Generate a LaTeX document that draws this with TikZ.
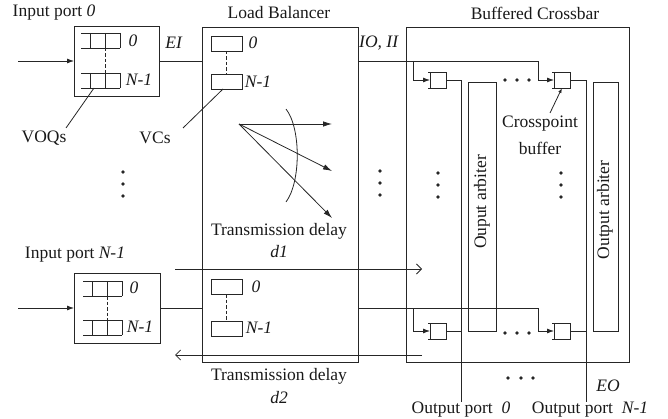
\documentclass[tikz,border=0pt]{standalone}
\usepackage{fontspec}
\setmainfont{Liberation Serif}
\usetikzlibrary{arrows.meta}
\newcommand{\myvoq}[2]{%
  \draw[ln] (#1,#2) -- ++(39,0) (#1,#2+15) -- ++(39,0)
    (#1+9,#2) -- ++(0,15) (#1+24,#2) -- ++(0,15) (#1+39,#2) -- ++(0,15);}
\begin{document}
\begin{tikzpicture}[x=1pt,y=-1pt,
  every node/.style={font=\fontsize{17.5}{20}\selectfont, inner sep=0pt, text=black!90},
  ln/.style={line width=0.8pt, draw=black!85},
  box/.style={ln, rectangle, inner sep=0pt, outer sep=0pt, anchor=north west},
  vc/.style={box, minimum width=31pt, minimum height=15pt},
  xpb/.style={box, minimum width=16pt, minimum height=16pt},
  fillarrow/.style={ln, -{Latex[length=7pt,width=5pt]}},
  fanarrow/.style={ln, -{Latex[length=9pt,width=5.5pt]}},
  openarrow/.style={ln, -{Straight Barb[length=5pt,width=10pt]}},
  dotc/.style={fill=black!85, draw=none, circle, minimum size=3.8pt, inner sep=0pt},
  dashv/.style={ln, dash pattern=on 3.5pt off 2pt}
]
\useasboundingbox (0,0) rectangle (668,419);

% ---------- Input port 0 ----------
\node at (54,13) {Input port \textit{0}};
\node[box, minimum width=85pt, minimum height=70pt] (ip0) at (74,26) {};
\coordinate (in0) at (18,61);
\draw[fillarrow] (in0) -- (ip0.west);
\myvoq{81}{33}
\myvoq{81}{73}
\draw[dashv] (105,48) -- (105,73);
\node at (133,41) {\textit{0}};
\node at (139,80) {\textit{N-1}};
\node (voqs) at (44,138) {VOQs};
\coordinate (voqp) at (94,88);
\draw[ln] (66,128) -- (voqp);

% ---------- Input port N-1 ----------
\node at (75,255) {Input port \textit{N-1}};
\node[box, minimum width=86pt, minimum height=70pt] (ipN) at (74,273) {};
\coordinate (inN) at (18,308);
\draw[fillarrow] (inN) -- (ipN.west);
\myvoq{83}{281}
\myvoq{83}{320}
\draw[dashv] (107,296) -- (107,320);
\node at (134,288) {\textit{0}};
\node at (140,327) {\textit{N-1}};

% ---------- Load balancer ----------
\node at (279,13) {Load Balancer};
\node[box, minimum width=156pt, minimum height=335pt] (lb) at (202,27) {};
\node (EI) at (174,43) {\textit{EI}};
\draw[ln] (ip0.east) -- (ip0.east -| lb.west);
\draw[ln] (ipN.east) -- (ipN.east -| lb.west);
\node[vc] (vc0) at (211,36) {};
\node[vc] (vc1) at (211,74) {};
\draw[dashv] (vc0.south) -- (vc1.north);
\node at (253,43) {\textit{0}};
\node at (258,82) {\textit{N-1}};
\node (vcs) at (155,138) {VCs};
\coordinate (vcp) at (223,89);
\draw[ln] (183,128) -- (vcp);
\node[vc] (vc2) at (211,279) {};
\node[vc] (vc3) at (211,321) {};
\draw[dashv] (vc2.south) -- (vc3.north);
\node at (256,287) {\textit{0}};
\node at (259,328) {\textit{N-1}};

% fan of arrows
\coordinate (fo) at (239,124);
\coordinate (f1) at (332,124);
\coordinate (f2) at (332,171);
\coordinate (f3) at (332,218);
\draw[fanarrow] (fo) -- (f1);
\draw[fanarrow] (fo) -- (f2);
\draw[fanarrow] (fo) -- (f3);
\draw[ln] (286,109) .. controls (301,128) and (301,182) .. (286,202);

\node at (279,231) {Transmission delay};
\node at (279,252) {\textit{d1}};
\coordinate (d1a) at (175,269);
\coordinate (d1b) at (422,269);
\draw[openarrow] (d1a) -- (d1b);
\coordinate (d2a) at (422,355);
\coordinate (d2b) at (175,355);
\draw[openarrow] (d2a) -- (d2b);
\node at (279,376) {Transmission delay};
\node at (279,398) {\textit{d2}};

% vertical dots
\foreach \yy in {172,184,196} {\node[dotc] at (123,\yy) {};}
\foreach \yy in {171,183,195} {\node[dotc] at (380,\yy) {};}

% ---------- Buffered crossbar ----------
\node at (535,13) {Buffered Crossbar};
\node[box, minimum width=223pt, minimum height=335pt] (xb) at (406,27) {};
\node at (379,43) {\textit{IO, II}};

\node[xpb] (b11) at (430,72) {};
\node[xpb] (b12) at (554,72) {};
\node[xpb] (b21) at (430,323) {};
\node[xpb] (b22) at (554,323) {};
\foreach \b in {b11,b12,b21,b22} {
  \draw[ln] (\b.north west) -- ++(-2,0) (\b.south west) -- ++(-2,0);
}

\node[box, minimum width=28pt, minimum height=249pt] (arb1) at (468,82) {};
\node[box, minimum width=25pt, minimum height=249pt] (arb2) at (593,82) {};
\node[rotate=90] at (482,202) {Ouput arbiter};
\node[rotate=90] at (605,210) {Output arbiter};

% wiring top row
\coordinate (t1) at (538,61);
\coordinate (t1d) at (538,80);
\coordinate (t2) at (413,61);
\coordinate (t2d) at (413,80);
\draw[ln] (lb.east |- 0,61) -- (t1) -- (t1d);
\draw[fillarrow] (t1d) -- (b12.west);
\draw[ln] (t2) -- (t2d);
\draw[fillarrow] (t2d) -- (b11.west);
% wiring bottom row
\coordinate (u1) at (538,308);
\coordinate (u1d) at (538,331);
\coordinate (u2) at (413,308);
\coordinate (u2d) at (413,331);
\draw[ln] (lb.east |- 0,308) -- (u1) -- (u1d);
\draw[fillarrow] (u1d) -- (b22.west);
\draw[ln] (u2) -- (u2d);
\draw[fillarrow] (u2d) -- (b21.west);

% outputs
\coordinate (o1) at (461,80);
\coordinate (o1e) at (461,402);
\coordinate (o2) at (586,80);
\coordinate (o2e) at (586,402);
\draw[ln] (b11.east) -- (o1) -- (o1e);
\draw[ln] (b12.east) -- (o2) -- (o2e);
\draw[ln] (b21.east) -- (b21.east -| o1);
\draw[ln] (b22.east) -- (b22.east -| o2);

% crosspoint label
\node at (540,124) {Crosspoint};
\node at (540,148) {buffer};
\coordinate (cpf) at (550,113);
\draw[ln, -{Latex[length=5pt,width=3.5pt]}] (cpf) -- (b12.south);

% dots in crossbar
\foreach \xx in {505,517,529} {\node[dotc] at (\xx,80) {}; \node[dotc] at (\xx,333) {};}
\foreach \xx in {508,521,533} {\node[dotc] at (\xx,378) {};}
\foreach \yy in {173,185,197} {\node[dotc] at (438,\yy) {}; \node[dotc] at (561,\yy) {};}

\node at (608,386) {\textit{EO}};
\node at (461,410) {Output port~~\textit{0}};
\node at (590,410) {Output port~~\textit{N-1}};
\end{tikzpicture}
\end{document}
